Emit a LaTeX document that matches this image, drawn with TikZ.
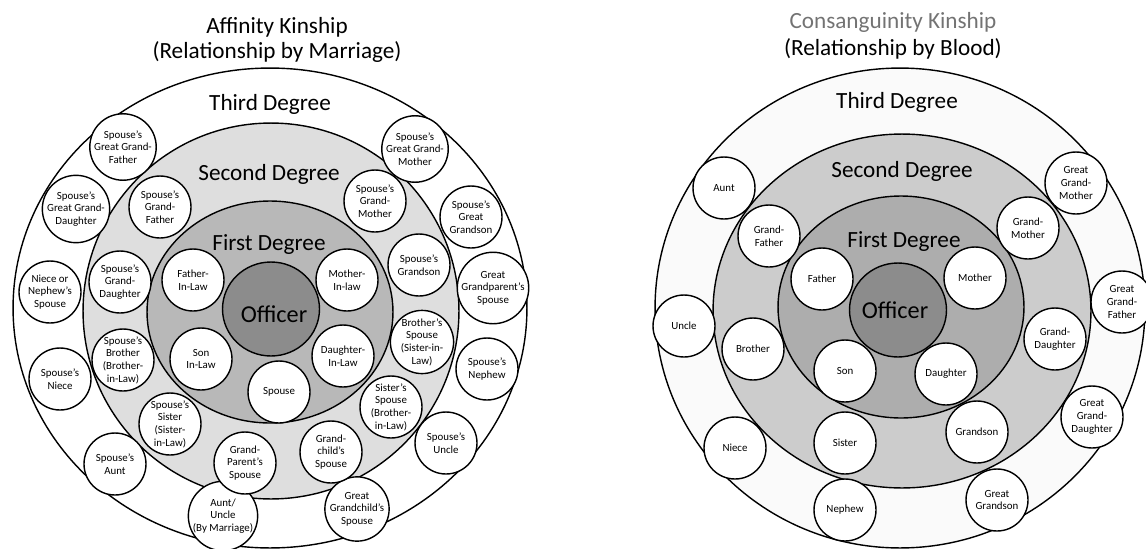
\documentclass[tikz,border=0pt]{standalone}
\usepackage{fontspec}
\setmainfont{Carlito}

\definecolor{c1}{gray}{0.87}
\definecolor{c2}{gray}{0.72}
\definecolor{c3}{gray}{0.55}
\definecolor{c4}{gray}{0.98}
\definecolor{c5}{gray}{0.80}
\definecolor{c6}{gray}{0.68}

\begin{document}
\begin{tikzpicture}[x=0.02cm, y=-0.02cm,
    ring/.style={draw=black, line width=0.8pt},
    kin/.style={draw=black, line width=0.8pt, fill=white, circle, minimum size=1.24cm,
      inner sep=0pt, align=center, font=\fontsize{6.2}{7.2}\selectfont},
    degree/.style={anchor=base, font=\fontsize{13.2}{15}\selectfont},
    title/.style={anchor=base, font=\fontsize{13.2}{14.2}\selectfont}]
      \useasboundingbox (0,0) rectangle (1146,548);

      % affinity kinship
      \draw[ring,fill=white] (270,308) ellipse (5.14cm and 4.8cm);
      \draw[ring,fill=c1] (271,311) ellipse (3.76cm and 3.76cm);
      \draw[ring,fill=c2] (270,312) ellipse (2.46cm and 2.22cm);
      \draw[ring,fill=c3] (271,309) ellipse (0.97cm and 0.94cm);

      \node[title] (at1) at (277,33) {Affinity Kinship};
      \node[title] (at2) at (277,58) {(Relationship by Marriage)};
      \node[degree] (a3) at (270,110) {Third Degree};
      \node[degree] (a2) at (269,180) {Second Degree};
      \node[degree] (a1) at (269,250) {First Degree};
      \node[anchor=base, font=\fontsize{13.8}{16}\selectfont] (aoff) at (274,322) {Officer};

      \node[kin] (sgf)  at (123,147) {Spouse's\\Great Grand-\\Father};
      \node[kin] (sggd) at (76,209)  {Spouse's\\Great Grand-\\Daughter};
      \node[kin] (nns)  at (50,292)  {Niece or\\Nephew's\\Spouse};
      \node[kin] (sni)  at (60,379)  {Spouse's\\Niece};
      \node[kin] (sau)  at (115,464) {Spouse's\\Aunt};
      \node[kin] (auu)  at (223,516) {Aunt/\\Uncle\\(By Marriage)};
      \node[kin] (ggcs) at (357,509) {Great\\Grandchild's\\Spouse};
      \node[kin] (sun)  at (446,443) {Spouse's\\Uncle};
      \node[kin] (sne)  at (487,369) {Spouse's\\Nephew};
      \node[kin] (ggps) at (493,288) {Great\\Grandparent's\\Spouse};
      \node[kin] (sggs) at (471,217) {Spouse's\\Great\\Grandson};
      \node[kin] (sggm) at (415,149) {Spouse's\\Great Grand-\\Mother};

      \node[kin] (sgfa) at (160,207) {Spouse's\\Grand-\\Father};
      \node[kin] (sgm)  at (375,201) {Spouse's\\Grand-\\Mother};
      \node[kin] (sgs)  at (419,265) {Spouse's\\Grandson};
      \node[kin] (bs)   at (422,342) {Brother's\\Spouse\\(Sister-in-\\Law)};
      \node[kin] (ss)   at (391,407) {Sister's\\Spouse\\(Brother-\\in-Law)};
      \node[kin] (gcs)  at (331,452) {Grand-\\child's\\Spouse};
      \node[kin] (gps)  at (245,463) {Grand-\\Parent's\\Spouse};
      \node[kin] (ssi)  at (170,424) {Spouse's\\Sister\\(Sister-\\in-Law)};
      \node[kin] (sbr)  at (123,360) {Spouse's\\Brother\\(Brother-\\in-Law)};
      \node[kin] (sgd)  at (120,282) {Spouse's\\Grand-\\Daughter};

      \node[kin] (fil)  at (193,280) {Father-\\In-Law};
      \node[kin] (mil)  at (347,280) {Mother-\\In-law};
      \node[kin] (sil)  at (201,359) {Son\\In-Law};
      \node[kin] (dil)  at (343,356) {Daughter-\\In-Law};
      \node[kin] (sp)   at (279,392) {Spouse};

      % consanguinity kinship
      \draw[ring,fill=c4] (900,308) ellipse (4.9cm and 4.8cm);
      \draw[ring,fill=c5] (902,311) ellipse (3.78cm and 3.54cm);
      \draw[ring,fill=c6] (901,307) ellipse (2.46cm and 2.22cm);
      \draw[ring,fill=c3] (898,310) ellipse (0.97cm and 0.94cm);

      \node[title, text=black!55] (bt1) at (893,28) {Consanguinity Kinship};
      \node[title] (bt2) at (893,55) {(Relationship by Blood)};
      \node[degree] (b3) at (897,108) {Third Degree};
      \node[degree] (b2) at (902,177) {Second Degree};
      \node[degree] (b1) at (904,247) {First Degree};
      \node[anchor=base, font=\fontsize{13.8}{16}\selectfont] (boff) at (895,318) {Officer};

      \node[kin] (aunt)   at (724,188)  {Aunt};
      \node[kin] (uncle)  at (684,326)  {Uncle};
      \node[kin] (niece)  at (735,448)  {Niece};
      \node[kin] (nephew) at (845,510)  {Nephew};
      \node[kin] (ggson)  at (997,500)  {Great\\Grandson};
      \node[kin] (ggd)    at (1092,417) {Great\\Grand-\\Daughter};
      \node[kin] (ggf)    at (1122,302) {Great\\Grand-\\Father};
      \node[kin] (ggm)    at (1076,183) {Great\\Grand-\\Mother};

      \node[kin] (gf)     at (769,236)  {Grand-\\Father};
      \node[kin] (gm)     at (1028,228) {Grand-\\Mother};
      \node[kin] (gd)     at (1055,339) {Grand-\\Daughter};
      \node[kin] (gson)   at (977,432)  {Grandson};
      \node[kin] (sister) at (845,443)  {Sister};
      \node[kin] (brother) at (753,349) {Brother};

      \node[kin] (father) at (822,279)  {Father};
      \node[kin] (mother) at (975,278)  {Mother};
      \node[kin] (son)    at (845,371)  {Son};
      \node[kin] (daughter) at (946,374) {Daughter};
\end{tikzpicture}
\end{document}
